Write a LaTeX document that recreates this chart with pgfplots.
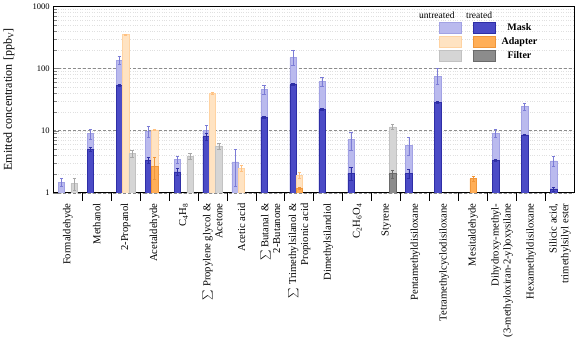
\documentclass[border=0pt]{standalone}
\usepackage{fontspec}
\setmainfont{Liberation Serif}
\usepackage{pgfplots}
\pgfplotsset{compat=1.18}
\definecolor{muFill}{HTML}{BABAEE}
\definecolor{muDraw}{HTML}{A2A2E4}
\definecolor{muErr}{HTML}{7C7CD6}
\definecolor{mtFill}{HTML}{4B4BC6}
\definecolor{mtDraw}{HTML}{2E2EA6}
\definecolor{auFill}{HTML}{FFE3C2}
\definecolor{auDraw}{HTML}{FFD3A2}
\definecolor{auErr}{HTML}{FFC080}
\definecolor{atFill}{HTML}{FFAE57}
\definecolor{atDraw}{HTML}{F0963A}
\definecolor{fuFill}{HTML}{D5D5D5}
\definecolor{fuDraw}{HTML}{C2C2C2}
\definecolor{fuErr}{HTML}{A8A8A8}
\definecolor{ftFill}{HTML}{8C8C8C}
\definecolor{ftDraw}{HTML}{6A6A6A}

\begin{document}
\fontsize{10.6}{11.8}\selectfont
\begin{tikzpicture}
\begin{axis}[
    scale only axis, width=520pt, height=186pt,
    ymode=log, ymin=1, ymax=1000,
    ytick={1,10,100,1000}, yticklabels={1,10,100,1000},
    xmin=-0.5, xmax=17.5,
    xtick={0,...,17},
    xticklabels={Formaldehyde, Methanol, 2-Propanol, Acetaldehyde,
        C\textsubscript{4}H\textsubscript{8},
        {$\sum$ Propylene glycol \&\\Acetone},
        Acetic acid,
        {$\sum$ Butanal \&\\2-Butanone},
        {$\sum$ Trimethylsilanol \&\\Propionic acid},
        Dimethylsilandiol,
        C\textsubscript{2}H\textsubscript{6}O\textsubscript{4},
        Styrene, Pentamethyldisiloxane, Tetramethylcyclodisiloxane,
        Mesitaldehyde,
        {Dihydroxy-methyl-\\(3-methyloxiran-2-yl)oxysilane},
        Hexamethyldisiloxane,
        {Silicic acid,\\trimethylsilyl ester}},
    xticklabel style={rotate=90, anchor=east, align=right,
        font=\fontsize{10.6}{11.8}\selectfont},
    xticklabel shift=1pt,
    major x tick style={draw=none},
    extra x ticks={0.5,1.5,...,16.5},
    extra x tick style={xticklabel={}, major tick length=8pt,
        tick align=outside, grid=none,
        major x tick style={draw=black, line width=0.9pt}},
    yticklabel style={font=\fontsize{8.5}{10}\selectfont},
    tick align=inside, tick pos=left,
    major tick length=6pt, minor tick length=3.5pt,
    axis line style={line width=1.1pt},
    ymajorgrids, yminorgrids,
    major grid style={densely dashed, black!45, line width=0.5pt},
    minor grid style={dotted, black!12, line width=0.3pt},
    ylabel={Emitted concentration [ppb\textsubscript{V}]},
    every axis y label/.style={at={(axis description cs:-0.085,0.5)},
        rotate=90, anchor=center,
        font=\fontsize{12}{14}\selectfont},
    ybar, bar width=0.22,
    error bars/y dir=both, error bars/y explicit,
    legend columns=2,
    legend style={at={(0.733,0.93)}, anchor=north west, draw=none, fill=none,
        font=\bfseries\fontsize{10}{12}\selectfont, row sep=1.5pt,
        /tikz/every odd column/.append style={column sep=4pt},
        /tikz/every even column/.append style={column sep=4pt}},
    legend image code/.code={\draw[#1] (0pt,-5.5pt) rectangle (22pt,5.5pt);},
]
% Mask untreated
\addplot[bar shift=-0.22, fill=muFill, draw=muDraw, line width=0.5pt,
    error bars/error bar style={muErr, line width=0.6pt},
    error bars/error mark options={rotate=90, muErr, mark size=1.6pt, line width=0.6pt}]
coordinates {
    (0,1.49) +- (0,0.2) (1,8.95) +- (0,1.6) (2,136) +- (0,19)
    (3,9.7) +- (0,2.0) (4,3.44) +- (0,0.45) (5,10.1) +- (0,2.1)
    (6,3.16) +- (0,1.9) (7,45.8) +- (0,7) (8,150) += (0,50) -= (0,37)
    (9,61.7) +- (0,10.5) (10,7.16) +- (0,2.4) (12,5.88) +- (0,1.9)
    (13,74.3) += (0,25.7) -= (0,19) (15,9.05) +- (0,1.35)
    (16,24.7) +- (0,3.3) (17,3.28) +- (0,0.57)
};
% Mask treated
\addplot[bar shift=-0.22, fill=mtFill, draw=mtDraw, line width=0.5pt,
    error bars/error bar style={mtDraw, line width=0.6pt},
    error bars/error mark options={rotate=90, mtDraw, mark size=1.6pt, line width=0.6pt}]
coordinates {
    (1,5.0) +- (0,0.4) (2,53.8) +- (0,2) (3,3.37) +- (0,0.35)
    (4,2.18) +- (0,0.3) (5,8.0) +- (0,1.0) (7,16.4) +- (0,0.5)
    (8,55.2) +- (0,2) (9,22) +- (0,0.6) (10,2.08) +- (0,0.5)
    (12,2.05) +- (0,0.33) (13,28.3) +- (0,1) (15,3.32) +- (0,0.12)
    (16,8.6) +- (0,0.3) (17,1.16) +- (0,0.09)
};
% Adapter untreated
\addplot[bar shift=0, fill=auFill, draw=auDraw, line width=0.5pt,
    error bars/error bar style={auErr, line width=0.6pt},
    error bars/error mark options={rotate=90, auErr, mark size=1.6pt, line width=0.6pt}]
coordinates {
    (2,353) +- (0,6) (3,10.3) +- (0,0.3) (5,40) +- (0,0.8)
    (6,2.5) +- (0,0.26) (8,1.93) +- (0,0.23)
};
% Adapter treated
\addplot[bar shift=0, fill=atFill, draw=atDraw, line width=0.5pt,
    error bars/error bar style={atDraw, line width=0.6pt},
    error bars/error mark options={rotate=90, atDraw, mark size=1.6pt, line width=0.6pt}]
coordinates {
    (3,2.7) +- (0,1.07) (8,1.19) +- (0,0.05) (14,1.70) +- (0,0.16)
};
% Filter untreated
\addplot[bar shift=0.22, fill=fuFill, draw=fuDraw, line width=0.5pt,
    error bars/error bar style={fuErr, line width=0.6pt},
    error bars/error mark options={rotate=90, fuErr, mark size=1.6pt, line width=0.6pt}]
coordinates {
    (0,1.41) +- (0,0.3) (2,4.26) +- (0,0.5) (4,3.85) +- (0,0.4)
    (5,5.67) +- (0,0.6) (11,11.5) +- (0,1.1)
};
% Filter treated
\addplot[bar shift=0.22, fill=ftFill, draw=ftDraw, line width=0.5pt,
    error bars/error bar style={ftDraw, line width=0.6pt},
    error bars/error mark options={rotate=90, ftDraw, mark size=1.6pt, line width=0.6pt}]
coordinates {
    (11,2.03) +- (0,0.3)
};
\legend{\mbox{},Mask,\mbox{},Adapter,\mbox{},Filter}
\node[anchor=base, font=\fontsize{9.5}{11}\selectfont] at (axis description cs:0.736,0.935) {untreated};
\node[anchor=base, font=\fontsize{9.5}{11}\selectfont] at (axis description cs:0.817,0.935) {treated};
\end{axis}
\end{tikzpicture}
\end{document}
